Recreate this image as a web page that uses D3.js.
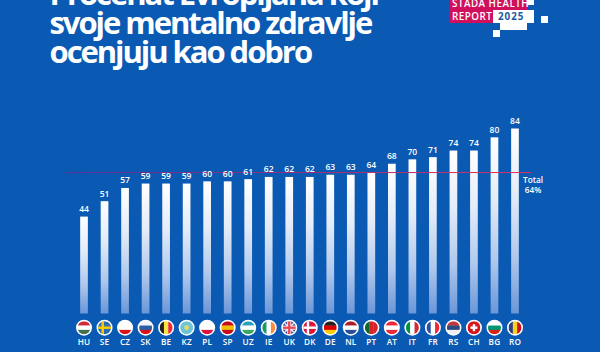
<!DOCTYPE html>
<html><head><meta charset="utf-8">
<script src="https://cdn.jsdelivr.net/npm/d3@7"></script>
<style>html,body{margin:0;padding:0;background:#0a5ab4}svg{display:block}text{font-family:"Open Sans",sans-serif}</style>
</head><body><svg id="c" width="600" height="352"></svg>
<script>
const categories=["HU","SE","CZ","SK","BE","KZ","PL","SP","UZ","IE","UK","DK","DE","NL","PT","AT","IT","FR","RS","CH","BG","RO"];
const values=[44,51,57,59,59,59,60,60,61,62,62,62,63,63,64,68,70,71,74,74,80,84];
const totalValue=64;
const titleLines=["Procenat Evropljana koji","svoje mentalno zdravlje","ocenjuju kao dobro"];
const flagStripes={HU:["h","#ce2939","#fff","#477050"],SE:["h","#2a6db0","#2a6db0","#2a6db0"],CZ:["h","#fff","#fff","#d7141a"],SK:["h","#f4f4f4","#2a5fa8","#d7141a"],BE:["v","#222","#fae042","#ed2939"],KZ:["h","#6cc4d8","#6cc4d8","#6cc4d8"],PL:["h","#fff","#fff","#dc143c"],SP:["h","#c60b1e","#f1bf00","#c60b1e"],UZ:["h","#2a9fc0","#fff","#3aa860"],IE:["v","#169b62","#fff","#ff883e"],UK:["h","#2a3f8a","#2a3f8a","#2a3f8a"],DK:["h","#d8143c","#d8143c","#d8143c"],DE:["h","#222","#dd0000","#ffce00"],NL:["h","#ae1c28","#fff","#2a4f9a"],PT:["v","#0a6a30","#d8222a","#d8222a"],AT:["h","#ed2939","#fff","#ed2939"],IT:["v","#009246","#fff","#ce2b37"],FR:["v","#2a4fa0","#fff","#ed2939"],RS:["h","#c6363c","#2a4a80","#f0f0f0"],CH:["h","#d8141c","#d8141c","#d8141c"],BG:["h","#fff","#00966e","#d62612"],RO:["v","#2a3f8a","#fcd116","#ce1126"]};
const crossFlags={SE:"#fecc00",DK:"#fff",CH:"#fff",UK:"#e84a5a"};

const svg=d3.select("#c");
const x=d3.scaleBand().domain(categories).range([73.75,525.25]).paddingInner(0.625).paddingOuter(0.3125);
const y=d3.scaleLinear().domain([0,84]).range([313.5,128.5]);
const defs=svg.append("defs");
const g=defs.append("linearGradient").attr("id","bar").attr("x1",0).attr("x2",0).attr("y1",0).attr("y2",1);
g.append("stop").attr("offset",0).attr("stop-color","#ffffff");
g.append("stop").attr("offset",.35).attr("stop-color","#e4ecf8");
g.append("stop").attr("offset",.7).attr("stop-color","#b0c8ec");
g.append("stop").attr("offset",1).attr("stop-color","#6a96d8");
const lg=defs.append("linearGradient").attr("id","tot").attr("gradientUnits","userSpaceOnUse").attr("x1",65).attr("x2",531).attr("y1",0).attr("y2",0);
lg.append("stop").attr("offset",0).attr("stop-color","#5a2f9a");
lg.append("stop").attr("offset",1).attr("stop-color","#e0305c");

svg.append("rect").attr("width",600).attr("height",352).attr("fill","#0a5ab4");
svg.append("g").selectAll("text").data(titleLines).join("text")
 .attr("x",49.5).attr("y",(d,i)=>5+i*29.2).attr("fill","#fff").attr("font-size",31).attr("font-weight",700).attr("letter-spacing",-2.05).text(d=>d);

// logo
const logo=svg.append("g");
logo.append("rect").attr("x",450).attr("y",0).attr("width",77).attr("height",10).attr("fill","#d0105c");
logo.append("rect").attr("x",450).attr("y",10).attr("width",43).attr("height",13).attr("fill","#d0105c");
logo.append("rect").attr("x",493).attr("y",10).attr("width",41).attr("height",13).attr("fill","#fff");
logo.append("rect").attr("x",500).attr("y",23).attr("width",27).attr("height",7).attr("fill","#fff");
logo.append("rect").attr("x",527).attr("y",0).attr("width",7).attr("height",5).attr("fill","#fff");
logo.append("rect").attr("x",541).attr("y",16).attr("width",7).attr("height",7).attr("fill","#fff");
logo.append("rect").attr("x",493).attr("y",30).attr("width",7).attr("height",7).attr("fill","#fff");
logo.append("text").attr("x",452).attr("y",7).attr("fill","#fff").attr("font-size",9.8).attr("font-weight",600).attr("letter-spacing",.5).text("STADA HEALTH");
logo.append("text").attr("x",452).attr("y",20).attr("fill","#fff").attr("font-size",9.8).attr("font-weight",600).attr("letter-spacing",.5).text("REPORT");
logo.append("text").attr("x",498).attr("y",20).attr("fill","#1c5a9c").attr("font-size",9.8).attr("font-weight",700).attr("letter-spacing",1).text("2025");

svg.append("g").selectAll("rect").data(categories).join("rect")
 .attr("x",d=>x(d)).attr("width",x.bandwidth())
 .attr("y",(d,i)=>y(values[i])).attr("height",(d,i)=>y(0)-y(values[i])).attr("fill","url(#bar)");
svg.append("rect").attr("x",65).attr("width",466).attr("y",y(totalValue)-.5).attr("height",1).attr("fill","url(#tot)");
svg.append("g").selectAll("text").data(categories).join("text")
 .attr("x",d=>x(d)+x.bandwidth()/2).attr("y",(d,i)=>y(values[i])-4.5).attr("text-anchor","middle")
 .attr("fill","#fff").attr("font-size",8.5).attr("font-weight",600).text((d,i)=>values[i]);

const tot=svg.append("g").attr("fill","#fff").attr("font-size",8.2).attr("font-weight",600).attr("text-anchor","middle");
tot.append("text").attr("x",533).attr("y",183).text("Total");
tot.append("text").attr("x",533).attr("y",193).text(totalValue+"%");

const flags=svg.append("g").selectAll("g").data(categories).join("g")
 .attr("transform",d=>`translate(${x(d)+x.bandwidth()/2},327.7)`);
flags.each(function(d,i){
 const f=d3.select(this),s=flagStripes[d],r=6.5,id="f"+i;
 defs.append("clipPath").attr("id",id).append("circle").attr("r",r);
 f.append("circle").attr("r",8).attr("fill","#fff");
 const p=f.append("g").attr("clip-path",`url(#${id})`);
 [0,1,2].forEach(k=>{
  const a=-r+k*(2*r/3);
  if(s[0]==="h")p.append("rect").attr("x",-r).attr("y",a).attr("width",2*r).attr("height",2*r/3+.3).attr("fill",s[k+1]);
  else p.append("rect").attr("y",-r).attr("x",a).attr("height",2*r).attr("width",2*r/3+.3).attr("fill",s[k+1]);
 });
 if(d==="KZ")p.append("circle").attr("r",2.4).attr("fill","#e8d868");
 if(d==="UK"){
  p.append("path").attr("d","M-7,-7L7,7M-7,7L7,-7").attr("stroke","#f0dfe4").attr("stroke-width",1.6);
  p.append("rect").attr("x",-2).attr("y",-r).attr("width",4).attr("height",2*r).attr("fill","#fff");
  p.append("rect").attr("x",-r).attr("y",-2).attr("width",2*r).attr("height",4).attr("fill","#fff");
 }
 if(crossFlags[d]){
  p.append("rect").attr("x",d==="CH"||d==="UK"?-1.2:-3).attr("y",d==="CH"?-3.5:-r).attr("width",2.4).attr("height",d==="CH"?7:2*r).attr("fill",crossFlags[d]);
  p.append("rect").attr("x",d==="CH"?-3.5:-r).attr("y",-1.2).attr("width",d==="CH"?7:2*r).attr("height",2.4).attr("fill",crossFlags[d]);
 }
 f.append("text").attr("y",17.3).attr("text-anchor","middle").attr("fill","#fff").attr("font-size",8.2).attr("font-weight",600).attr("letter-spacing",.2).text(d);
});
</script></body></html>
